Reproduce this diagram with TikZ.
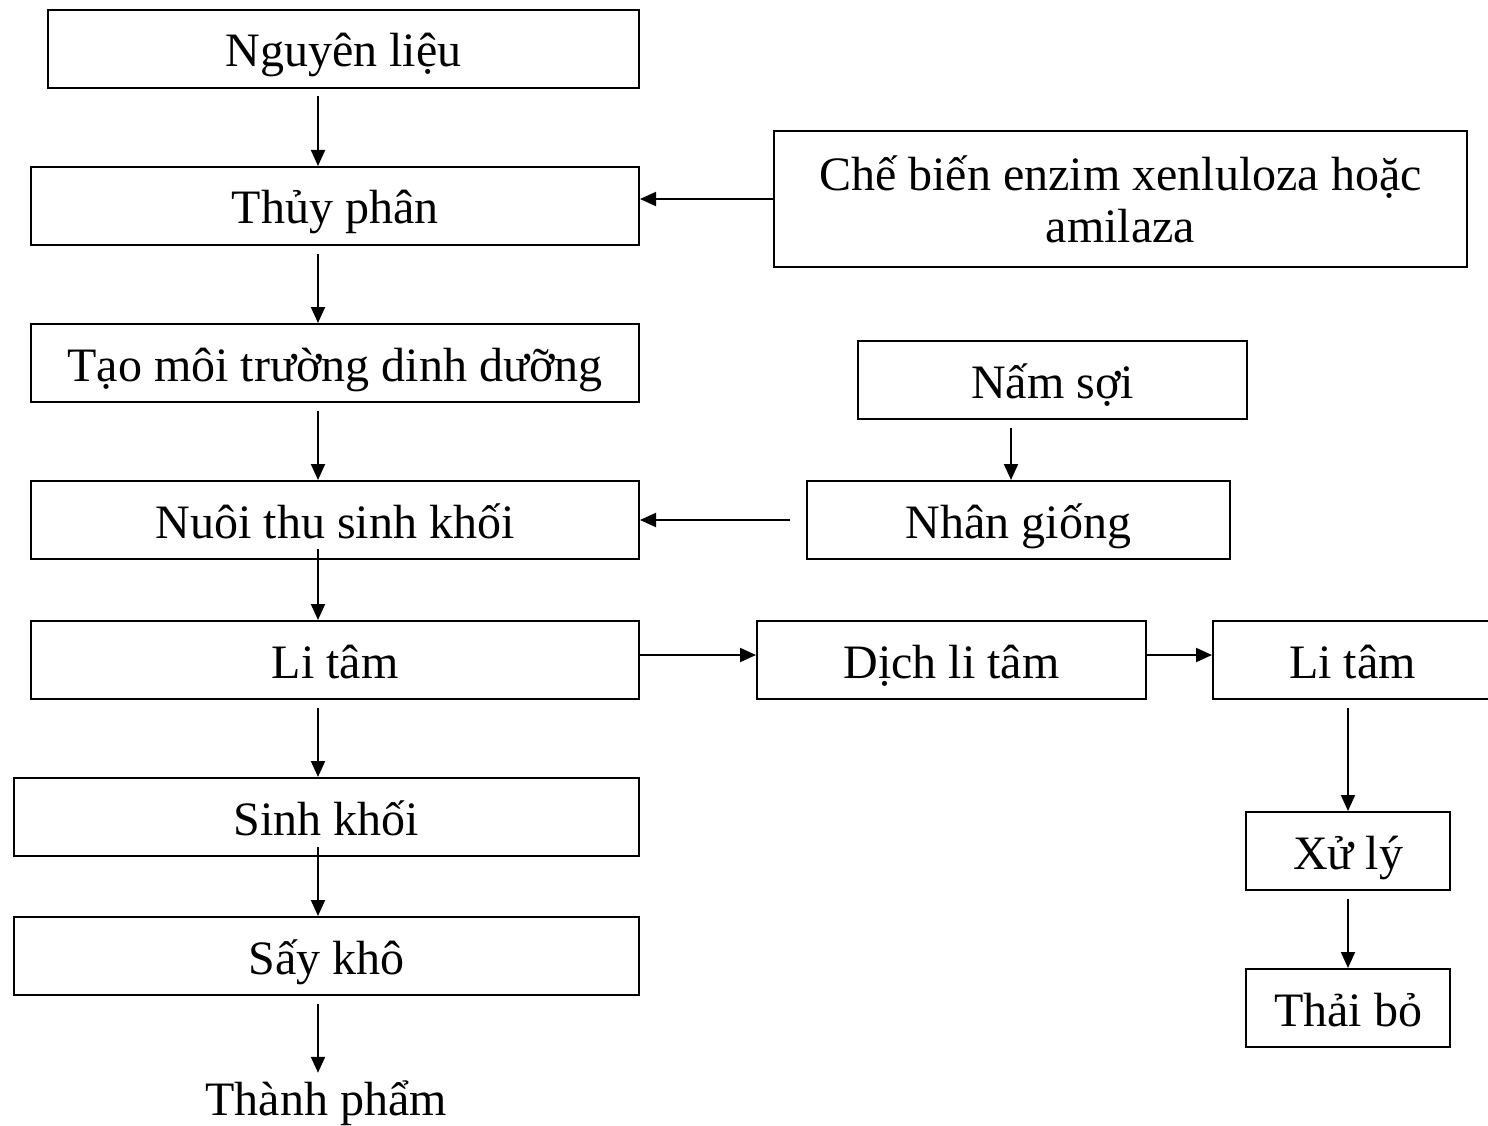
\documentclass[tikz,border=0pt]{standalone}
\usepackage{fontspec}
\setmainfont{Liberation Serif}
\usetikzlibrary{arrows.meta}

\begin{document}
\begin{tikzpicture}[x=1pt,y=-1pt,
	frame/.style={draw,line width=2pt,inner sep=0pt,font=\fontsize{48}{52}\selectfont},
	box/.style={frame,minimum height=78,text height=36pt,text depth=0pt},
	flow/.style={line width=2pt,-{Triangle[length=16pt,width=14pt]}}]
	\useasboundingbox (0,0) rectangle (1488,1126);
	\coordinate (col) at (318,0);
	\coordinate (colB) at (1011,0);
	\node [box,minimum width=591] (nguyen) at (343.5,49) {Nguyên liệu};
	\node [box,minimum width=608] (thuy) at (335,206) {Thủy phân};
	\node [box,minimum width=608] (tao) at (335,363) {Tạo môi trường dinh dưỡng};
	\node [box,minimum width=608] (nuoi) at (335,520) {Nuôi thu sinh khối};
	\node [box,minimum width=608] (litam) at (335,660) {Li tâm};
	\node [box,minimum width=625] (sinh) at (326.5,817) {Sinh khối};
	\node [box,minimum width=625] (say) at (326.5,956) {Sấy khô};
	\node [inner sep=0pt,text height=42pt,text depth=0pt,font=\fontsize{48}{52}\selectfont,anchor=base] (thanh) at (326,1115) {Thành phẩm};
	\node [frame,minimum width=693,minimum height=136,align=center] (chebien) at (1120.5,199) {Chế biến enzim xenluloza hoặc\\amilaza};
	\node [box,minimum width=389] (nam) at (1052.5,380) {Nấm sợi};
	\node [box,minimum width=423] (nhan) at (1018.5,520) {Nhân giống};
	\node [box,minimum width=389] (dich) at (951.5,660) {Dịch li tâm};
	\node [box,minimum width=279] (litamR) at (1352.5,660) {Li tâm};
	\node [box,minimum width=204] (xuly) at (1348,851) {Xử lý};
	\node [box,minimum width=204] (thai) at (1348,1008) {Thải bỏ};
	\draw [flow] ([yshift=-7pt]nguyen.south -| col) -- (thuy.north -| col);
	\draw [flow] ([yshift=-8pt]thuy.south -| col) -- (tao.north -| col);
	\draw [flow] ([yshift=-8pt]tao.south -| col) -- (nuoi.north -| col);
	\draw [flow] ([yshift=11pt]nuoi.south -| col) -- (litam.north -| col);
	\draw [flow] ([yshift=-8pt]litam.south -| col) -- (sinh.north -| col);
	\draw [flow] ([yshift=10pt]sinh.south -| col) -- (say.north -| col);
	\draw [flow] ([yshift=-8pt]say.south -| col) -- (thanh.north -| col);
	\draw [flow] (chebien.west) -- (chebien.west -| thuy.east);
	\draw [flow] ([yshift=-8pt]nam.south -| colB) -- (nhan.north -| colB);
	\draw [flow] ([xshift=-16pt]nhan.west) -- (nhan.west -| nuoi.east);
	\draw [flow] ([yshift=5pt]litam.east) -- ([yshift=5pt]dich.west);
	\draw [flow] ([yshift=5pt]dich.east) -- ([yshift=5pt]litamR.west);
	\draw [flow] ([yshift=-8pt]litamR.south -| xuly) -- (xuly.north);
	\draw [flow] ([yshift=-8pt]xuly.south) -- (thai.north);
\end{tikzpicture}
\end{document}
